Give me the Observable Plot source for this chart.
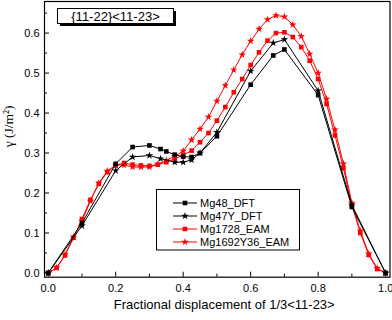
<!DOCTYPE html>
<html><head><meta charset="utf-8">
<script src="https://cdn.jsdelivr.net/npm/d3@7"></script>
<script src="https://cdn.jsdelivr.net/npm/@observablehq/plot@0.6"></script>
<style>body{margin:0;background:#fff} #chart{width:392px;height:320px}</style>
</head><body><div id="chart"></div>
<script>
// ---- data ----
const mg48X = [0, 0.1, 0.2, 0.25, 0.3, 0.333, 0.35, 0.375, 0.4, 0.425, 0.45, 0.5, 0.6, 0.667, 0.7, 0.8, 0.9, 1.0];
const mg48Y = [0, 0.125, 0.273, 0.315, 0.319, 0.31, 0.304, 0.296, 0.291, 0.29, 0.30, 0.342, 0.471, 0.544, 0.559, 0.445, 0.165, 0];

const mg47X = [0, 0.1, 0.2, 0.25, 0.3, 0.333, 0.375, 0.4, 0.425, 0.45, 0.5, 0.6, 0.667, 0.7, 0.8, 0.9, 1.0];
const mg47Y = [0, 0.118, 0.256, 0.29, 0.294, 0.286, 0.277, 0.277, 0.283, 0.30, 0.352, 0.505, 0.575, 0.584, 0.456, 0.17, 0];

const eamX = [0, 0.025, 0.05, 0.075, 0.1, 0.125, 0.15, 0.175, 0.2, 0.225, 0.25, 0.275, 0.3, 0.325, 0.35, 0.375, 0.4, 0.425, 0.45, 0.475, 0.5,
  0.525, 0.55, 0.575, 0.6, 0.625, 0.65, 0.675, 0.7, 0.725, 0.75, 0.775, 0.8, 0.825, 0.85, 0.875, 0.9, 0.925, 0.95, 0.975, 1.0];
const mg1728Y = [0, 0.013, 0.044, 0.088, 0.135, 0.183, 0.223, 0.252, 0.269, 0.275, 0.271, 0.269, 0.268, 0.271, 0.277, 0.285, 0.295, 0.306, 0.327, 0.35, 0.381,
  0.415, 0.452, 0.485, 0.52, 0.552, 0.581, 0.60, 0.602, 0.59, 0.565, 0.531, 0.485, 0.423, 0.344, 0.262, 0.17, 0.10, 0.045, 0.01, 0];
const mg1692Y = [0, 0.013, 0.046, 0.09, 0.13, 0.18, 0.225, 0.255, 0.27, 0.27, 0.265, 0.265, 0.265, 0.272, 0.282, 0.292, 0.305, 0.333, 0.36, 0.39, 0.43,
  0.469, 0.508, 0.546, 0.58, 0.61, 0.634, 0.644, 0.641, 0.621, 0.592, 0.548, 0.50, 0.435, 0.358, 0.273, 0.175, 0.105, 0.048, 0.012, 0];

const seriesNames = ["Mg48_DFT", "Mg47Y_DFT", "Mg1728_EAM", "Mg1692Y36_EAM"];
const xMajor = [0, 0.2, 0.4, 0.6, 0.8, 1.0];
const xMinor = [0.1, 0.3, 0.5, 0.7, 0.9];
const yMajor = [0, 0.1, 0.2, 0.3, 0.4, 0.5, 0.6];
const yMinor = [0.05, 0.15, 0.25, 0.35, 0.45, 0.55, 0.65];
const titleText = "{11-22}<11-23>";
const xLabel = "Fractional displacement of 1/3<11-23>";
const yLabel = "γ (J/m²)";

// ---- build tables ----
const zip = (xs, ys) => xs.map((x, i) => ({x, y: ys[i]}));
const s48 = zip(mg48X, mg48Y);
const s47 = zip(mg47X, mg47Y);
const s1728 = zip(eamX, mg1728Y);
const s1692 = zip(eamX, mg1692Y);

const W = 392, H = 320;
const mL = 44, mR = 2.5, mT = 1, mB = 43.3;
const plotW = W - mL - mR, plotH = H - mT - mB;
const rSq = 2.6, rStar = 2.4;

const chart = Plot.plot({
  width: W, height: H,
  marginLeft: mL, marginRight: mR, marginTop: mT, marginBottom: mB,
  style: {fontFamily: "'Liberation Sans', Arial, sans-serif", fontSize: "11px", color: "black", background: "white"},
  x: {domain: [-0.011, 1.013]},
  y: {domain: [-0.0105, 0.679]},
  marks: [
    Plot.axisX(xMajor, {tickSize: 0, tickPadding: 6.5, tickFormat: d3.format(".1f"), label: null, fontSize: 11}),
    Plot.axisY(yMajor, {tickSize: 0, tickPadding: 5, tickFormat: d3.format(".1f"), label: null, fontSize: 11}),
    Plot.tickX(xMajor, {x: d => d, insetTop: plotH - 5, stroke: "black"}),
    Plot.tickX(xMinor, {x: d => d, insetTop: plotH - 3, stroke: "black"}),
    Plot.tickY(yMajor, {y: d => d, insetRight: plotW - 5, stroke: "black"}),
    Plot.tickY(yMinor, {y: d => d, insetRight: plotW - 3, stroke: "black"}),
    // EAM red series
    Plot.line(s1692, {x: "x", y: "y", stroke: "#ff0000", strokeWidth: 1}),
    Plot.dot(s1692, {x: "x", y: "y", symbol: "star", r: rStar, fill: "#ff0000", stroke: null}),
    Plot.line(s1728, {x: "x", y: "y", stroke: "#ff0000", strokeWidth: 1}),
    Plot.dot(s1728, {x: "x", y: "y", symbol: "square", r: rSq, fill: "#ff0000", stroke: null}),
    // DFT black series
    Plot.line(s47, {x: "x", y: "y", stroke: "black", strokeWidth: 1}),
    Plot.dot(s47, {x: "x", y: "y", symbol: "star", r: rStar, fill: "black", stroke: null}),
    Plot.line(s48, {x: "x", y: "y", stroke: "black", strokeWidth: 1}),
    Plot.dot(s48, {x: "x", y: "y", symbol: "square", r: rSq, fill: "black", stroke: null}),
    Plot.frame({stroke: "black", strokeWidth: 1.2}),
    Plot.text([xLabel], {frameAnchor: "bottom", dx: 7, dy: 32, fontSize: 13, fill: "black"}),
    Plot.text([yLabel], {frameAnchor: "left", dx: -36, dy: 8, rotate: -90, fontSize: 13.5, fill: "black",
      fontFamily: "'Liberation Serif', 'Times New Roman', serif"})
  ]
});
document.getElementById("chart").appendChild(chart);

// ---- annotation box and legend ----
const svg = d3.select(chart);
const ann = svg.append("g");
ann.append("rect").attr("x", 60).attr("y", 11).attr("width", 116).attr("height", 15).attr("fill", "black");
ann.append("rect").attr("x", 57.5).attr("y", 8.5).attr("width", 116).attr("height", 15).attr("fill", "white").attr("stroke", "black").attr("stroke-width", 1);
ann.append("text").attr("x", 115.5).attr("y", 16).attr("text-anchor", "middle").attr("dominant-baseline", "central")
  .attr("font-size", 13).attr("fill", "black").text(titleText);

const leg = svg.append("g");
leg.append("rect").attr("x", 156.5).attr("y", 189.5).attr("width", 143).attr("height", 60.5)
  .attr("fill", "white").attr("stroke", "black").attr("stroke-width", 1);
const legStyle = [
  {color: "black", sym: d3.symbolSquare, r: rSq},
  {color: "black", sym: d3.symbolStar, r: rStar},
  {color: "#ff0000", sym: d3.symbolSquare, r: rSq},
  {color: "#ff0000", sym: d3.symbolStar, r: rStar}
];
const rowsY = [203, 216, 229, 242];
seriesNames.forEach((name, i) => {
  const y = rowsY[i], st = legStyle[i];
  leg.append("line").attr("x1", 173).attr("x2", 197).attr("y1", y).attr("y2", y).attr("stroke", st.color).attr("stroke-width", 1);
  leg.append("path").attr("transform", `translate(185,${y})`)
    .attr("d", d3.symbol(st.sym, st.r * st.r * Math.PI)()).attr("fill", st.color);
  leg.append("text").attr("x", 200).attr("y", y).attr("text-anchor", "start").attr("dominant-baseline", "central")
    .attr("font-size", 11).attr("fill", "black").text(name);
});
</script>
</body></html>
